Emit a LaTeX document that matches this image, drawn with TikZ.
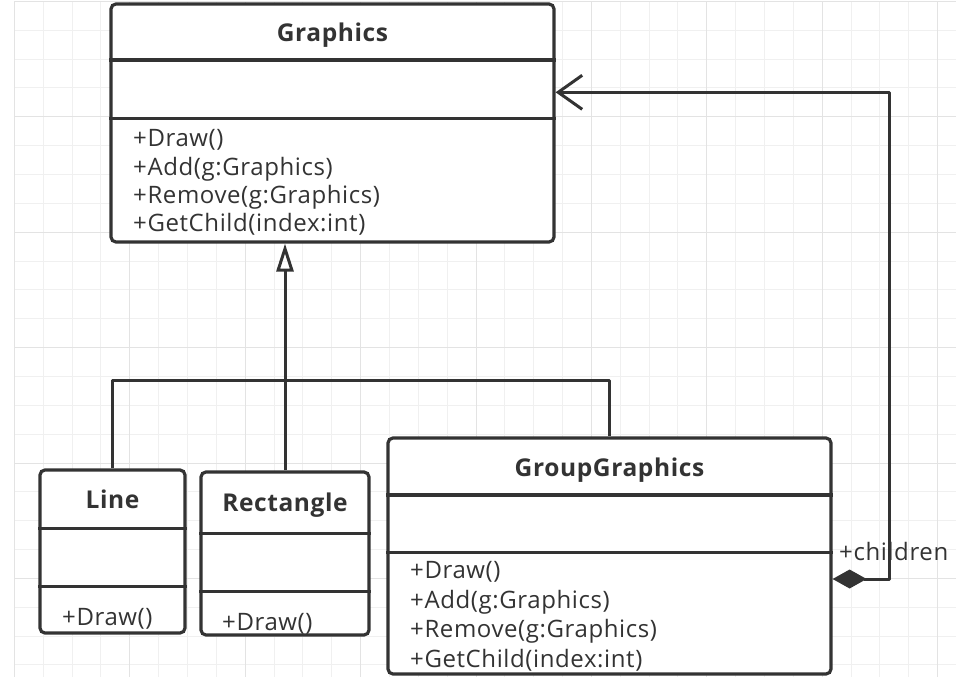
\documentclass[tikz,border=0pt]{standalone}
\usepackage{fontspec}
\setmainfont{Open Sans}
\newfontfamily\umlfont[LetterSpace=2.5]{Open Sans}
\usepackage{tikz}
\usetikzlibrary{calc, arrows.meta, positioning}
\definecolor{umlline}{HTML}{333333}
\definecolor{umltext}{HTML}{333333}
\tikzstyle{classbox} = [rectangle, draw=umlline, line width=3.2pt, rounded corners=5pt, fill=white, inner sep=0pt]
\tikzstyle{compline} = [draw=umlline, line width=3.2pt]
\tikzstyle{classname} = [anchor=base, inner sep=0pt, text=umltext, font=\umlfont\bfseries\fontsize{24.5}{24.5}\selectfont]
\tikzstyle{member} = [anchor=base west, inner sep=0pt, text=umltext, font=\umlfont\fontsize{24}{24}\selectfont]
\tikzstyle{link} = [draw=umlline, line width=3pt, line join=round]

\begin{document}
\begin{tikzpicture}[x=1pt, y=1pt]

        \useasboundingbox (0,0) rectangle (956,-677);
        % background grid
        \begin{scope}[shift={(14.3,-1.3)}]
            \draw[black!6, line width=0.8pt, step=28.85] (0,-690) grid (942,0);
            \draw[black!11, line width=0.8pt, step=115.4] (0,-690) grid (942,0);
        \end{scope}

        \node[classbox, minimum width=443, minimum height=238] at (332.5, -123) (Graphics) {};
        \draw[compline] (Graphics.west |- 0,-60) -- (Graphics.east |- 0,-60);
        \draw[compline] (Graphics.west |- 0,-118.5) -- (Graphics.east |- 0,-118.5);
        \node[classname] at (332.5, -42) (GraphicsName) {Graphics};
        \node[member] at (133, -146.7) (GraphicsDraw) {+Draw()};
        \node[member] at (133, -175) (GraphicsAdd) {+Add(g:Graphics)};
        \node[member] at (133, -203.3) (GraphicsRemove) {+Remove(g:Graphics)};
        \node[member] at (133, -231.7) (GraphicsGetChild) {+GetChild(index:int)};

        \node[classbox, minimum width=145, minimum height=163] at (112.5, -551.5) (Line) {};
        \draw[compline] (Line.west |- 0,-528.3) -- (Line.east |- 0,-528.3);
        \draw[compline] (Line.west |- 0,-586.7) -- (Line.east |- 0,-586.7);
        \node[classname] at (112.5, -508) (LineName) {Line};
        \node[member] at (62, -625) (LineDraw) {+Draw()};

        \node[classbox, minimum width=168, minimum height=163] at (285, -553.5) (Rectangle) {};
        \draw[compline] (Rectangle.west |- 0,-533.3) -- (Rectangle.east |- 0,-533.3);
        \draw[compline] (Rectangle.west |- 0,-591.7) -- (Rectangle.east |- 0,-591.7);
        \node[classname] at (285, -511.7) (RectangleName) {Rectangle};
        \node[member] at (222, -630) (RectangleDraw) {+Draw()};

        \node[classbox, minimum width=443, minimum height=236] at (609.5, -556) (GroupGraphics) {};
        \draw[compline] (GroupGraphics.west |- 0,-495) -- (GroupGraphics.east |- 0,-495);
        \draw[compline] (GroupGraphics.west |- 0,-552.7) -- (GroupGraphics.east |- 0,-552.7);
        \node[classname] at (609.5, -476) (GroupGraphicsName) {GroupGraphics};
        \node[member] at (410, -578.3) (GroupDraw) {+Draw()};
        \node[member] at (410, -608) (GroupAdd) {+Add(g:Graphics)};
        \node[member] at (410, -637.8) (GroupRemove) {+Remove(g:Graphics)};
        \node[member] at (410, -667.5) (GroupGetChild) {+GetChild(index:int)};

        % generalisation
        \coordinate (bar) at (0, -380);
        \draw[link, -{Triangle[open, length=28pt, width=17pt, line width=3pt]}] (Rectangle.north) -- (Rectangle.north |- Graphics.south);
        \draw[link] (Line.north) -- (Line.north |- bar) -- (GroupGraphics.north |- bar) -- (GroupGraphics.north);

        % aggregation
        \coordinate (childrenEnd) at (GroupGraphics.east |- 0,-579);
        \coordinate (graphicsEnd) at (Graphics.east |- 0,-92.3);
        \coordinate (loopRight) at (889, 0);
        \draw[link, {Diamond[length=34pt, width=19pt, fill=umlline]}-{Straight Barb[length=24pt, width=34pt]}]
            (childrenEnd) -- (loopRight |- childrenEnd) -- (loopRight |- graphicsEnd) -- (graphicsEnd);
        \node[member] at (839, -560) (childrenLabel) {+children};

\end{tikzpicture}
\end{document}
